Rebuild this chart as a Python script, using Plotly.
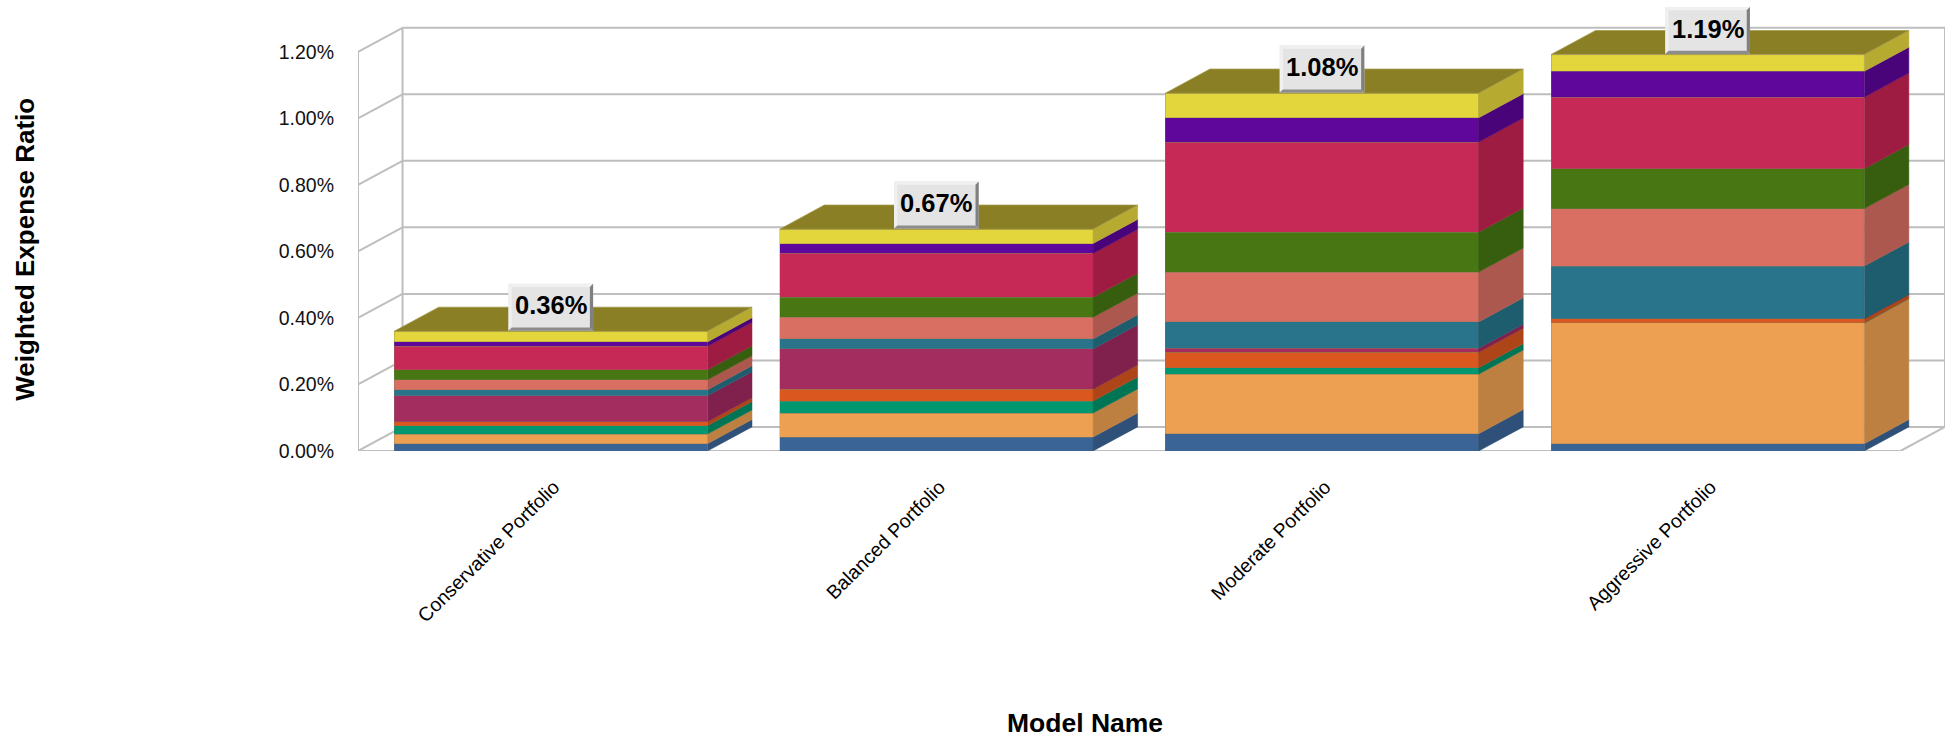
import numpy as np
import plotly.graph_objects as go

# Weighted expense ratio (in percent) contributed by each sleeve of each model
models = ["Conservative Portfolio", "Balanced Portfolio", "Moderate Portfolio", "Aggressive Portfolio"]
sleeve_1 = [0.022, 0.042, 0.052, 0.022]
sleeve_2 = [0.029, 0.072, 0.179, 0.363]
sleeve_3 = [0.025, 0.036, 0.019, 0.001]
sleeve_4 = [0.012, 0.036, 0.047, 0.012]
sleeve_5 = [0.078, 0.121, 0.012, 0.000]
sleeve_6 = [0.018, 0.030, 0.079, 0.158]
sleeve_7 = [0.030, 0.065, 0.150, 0.173]
sleeve_8 = [0.030, 0.060, 0.120, 0.120]
sleeve_9 = [0.071, 0.132, 0.271, 0.215]
sleeve_10 = [0.013, 0.030, 0.073, 0.078]
sleeve_11 = [0.032, 0.043, 0.074, 0.050]
y_ticks = [0.0, 0.2, 0.4, 0.6, 0.8, 1.0, 1.2]

stack = [sleeve_1, sleeve_2, sleeve_3, sleeve_4, sleeve_5, sleeve_6,
         sleeve_7, sleeve_8, sleeve_9, sleeve_10, sleeve_11]
front_colors = ["#3A6496", "#EEA052", "#00966F", "#DA571F", "#A32D5E", "#29748B",
                "#D96F62", "#477612", "#C72957", "#5E079A", "#E3D63C"]
side_colors = ["#2E5079", "#BD8040", "#007555", "#AD4518", "#7F214C", "#1E5D6E",
               "#AD584E", "#375E0E", "#9E1C42", "#4A0479", "#B6AB30"]
top_color = "#8A7F25"
wall_color = "#BEBEBE"

# Oblique projection: depth expressed in axis units
DEPTH_X = 0.1155
DEPTH_Y = 0.0725
BAR_WIDTH = 0.8125
FONT = "Liberation Sans, Arial, sans-serif"

# Plot area in page pixels; the value axis leaves headroom above the box for the top label
PAGE_W, PAGE_H = 1955, 738
PLOT_LEFT, PLOT_RIGHT, PLOT_TOP, PLOT_BOTTOM = 358, 1945, 2, 451.5
PX_PER_UNIT = 332.9

centers = np.arange(len(models)) + 0.5
totals = np.sum(stack, axis=0)
n = len(models)
y_top = y_ticks[-1]
y_range_top = (PLOT_BOTTOM - PLOT_TOP) / PX_PER_UNIT

fig = go.Figure()

# Front faces: ordinary stacked bars
for idx, values in enumerate(stack):
    fig.add_trace(go.Bar(
        x=centers, y=values, width=BAR_WIDTH, name=f"Sleeve {idx + 1}",
        marker=dict(color=front_colors[idx], line=dict(color="rgba(130,125,95,0.55)", width=0.6)),
        hoverinfo="skip", showlegend=False,
    ))

# Right-hand side faces of every stacked segment
bases = np.vstack([np.zeros(n), np.cumsum(stack, axis=0)])
for idx in range(len(stack)):
    xs, ys = [], []
    for c, lo, hi in zip(centers, bases[idx], bases[idx + 1]):
        r = c + BAR_WIDTH / 2
        xs += [r, r + DEPTH_X, r + DEPTH_X, r, r, None]
        ys += [lo, lo + DEPTH_Y, hi + DEPTH_Y, hi, lo, None]
    fig.add_trace(go.Scatter(
        x=xs, y=ys, mode="lines", fill="toself", fillcolor=side_colors[idx],
        line=dict(color=side_colors[idx], width=0.5), hoverinfo="skip", showlegend=False,
    ))

# Top faces of the columns
xs, ys = [], []
for c, total in zip(centers, totals):
    l, r = c - BAR_WIDTH / 2, c + BAR_WIDTH / 2
    xs += [l, r, r + DEPTH_X, l + DEPTH_X, l, None]
    ys += [total, total, total + DEPTH_Y, total + DEPTH_Y, total, None]
fig.add_trace(go.Scatter(
    x=xs, y=ys, mode="lines", fill="toself", fillcolor=top_color,
    line=dict(color="#A39A4A", width=0.8), hoverinfo="skip", showlegend=False,
))

# Chart box: floor, side wall and back wall sit behind everything
wall_line = dict(color=wall_color, width=2)
shapes = []


def wall_segment(x0, y0, x1, y1):
    shapes.append(dict(type="line", xref="x", yref="y", x0=x0, y0=y0, x1=x1, y1=y1,
                       line=wall_line, layer="below"))


for tick in y_ticks:
    wall_segment(0, tick, DEPTH_X, tick + DEPTH_Y)
    wall_segment(DEPTH_X, tick + DEPTH_Y, n + DEPTH_X, tick + DEPTH_Y)
wall_segment(0, 0, n, 0)
wall_segment(n, 0, n + DEPTH_X, DEPTH_Y)
wall_segment(0, 0, 0, y_top)
wall_segment(DEPTH_X, DEPTH_Y, DEPTH_X, y_top + DEPTH_Y)
wall_segment(n + DEPTH_X, DEPTH_Y, n + DEPTH_X, y_top + DEPTH_Y)

# Bevelled total labels centred on the back edge of each column top
annotations = []
HALF_W, HALF_H, BEVEL = 42.3, 23.5, 3.2


def bevel_piece(anchor_x, anchor_y, path, color):
    shapes.append(dict(type="path", xref="x", yref="y", xsizemode="pixel", ysizemode="pixel",
                       xanchor=anchor_x, yanchor=anchor_y, path=path,
                       fillcolor=color, line=dict(width=0), layer="above"))


for c, total in zip(centers, totals):
    ay = total + DEPTH_Y
    w, h, b = HALF_W, HALF_H, BEVEL
    bevel_piece(c, ay, f"M {-w} {-h} L {w} {-h} L {w} {h} L {-w} {h} Z", "#E4E4E4")
    bevel_piece(c, ay, f"M {-w} {h} L {w} {h} L {w - b} {h - b} L {-w + b} {h - b} Z", "#F0F0F0")
    bevel_piece(c, ay, f"M {-w} {-h} L {-w} {h} L {-w + b} {h - b} L {-w + b} {-h + b} Z", "#F0F0F0")
    bevel_piece(c, ay, f"M {w} {h} L {w} {-h} L {w - b} {-h + b} L {w - b} {h - b} Z", "#808080")
    bevel_piece(c, ay, f"M {-w} {-h} L {w} {-h} L {w - b} {-h + b} L {-w + b} {-h + b} Z", "#8C8C8C")
    annotations.append(dict(
        x=c, y=ay, xref="x", yref="y", text=f"{total:.2f}%", showarrow=False, yshift=2,
        font=dict(family=FONT, size=25.5, color="#000000", weight="bold"),
    ))


def paper_x(px):
    return (px - PLOT_LEFT) / (PLOT_RIGHT - PLOT_LEFT)


def paper_y(py):
    return (PLOT_BOTTOM - py) / (PLOT_BOTTOM - PLOT_TOP)


# Axis titles
annotations.append(dict(
    x=paper_x(25), y=paper_y(250), xref="paper", yref="paper", text="Weighted Expense Ratio",
    textangle=-90, showarrow=False, xanchor="center", yanchor="middle",
    font=dict(family=FONT, size=26, color="#000000", weight="bold"),
))
annotations.append(dict(
    x=paper_x(1085), y=paper_y(724), xref="paper", yref="paper", text="Model Name",
    showarrow=False, xanchor="center", yanchor="middle",
    font=dict(family=FONT, size=26.5, color="#000000", weight="bold"),
))

fig.update_layout(
    width=PAGE_W, height=PAGE_H, barmode="stack",
    margin=dict(l=PLOT_LEFT, r=PAGE_W - PLOT_RIGHT, t=PLOT_TOP, b=PAGE_H - PLOT_BOTTOM, autoexpand=False),
    paper_bgcolor="white", plot_bgcolor="white",
    font=dict(family=FONT, color="#000000"),
    showlegend=False, shapes=shapes, annotations=annotations,
    xaxis=dict(
        range=[0, n + DEPTH_X], tickmode="array", tickvals=list(centers), ticktext=models,
        tickangle=-45, tickfont=dict(family=FONT, size=19.5, color="#000000"),
        showgrid=False, zeroline=False, showline=False, ticks="",
        ticklabelstandoff=20, ticklabelshift=3,
    ),
    yaxis=dict(
        range=[0, y_range_top], tickmode="array", tickvals=y_ticks,
        ticktext=[f"{t:.2f}%" for t in y_ticks],
        tickfont=dict(family=FONT, size=19.5, color="#111111"),
        showgrid=False, zeroline=False, showline=False, ticks="", ticklabelstandoff=23,
    ),
)

fig.write_html("out.html")
